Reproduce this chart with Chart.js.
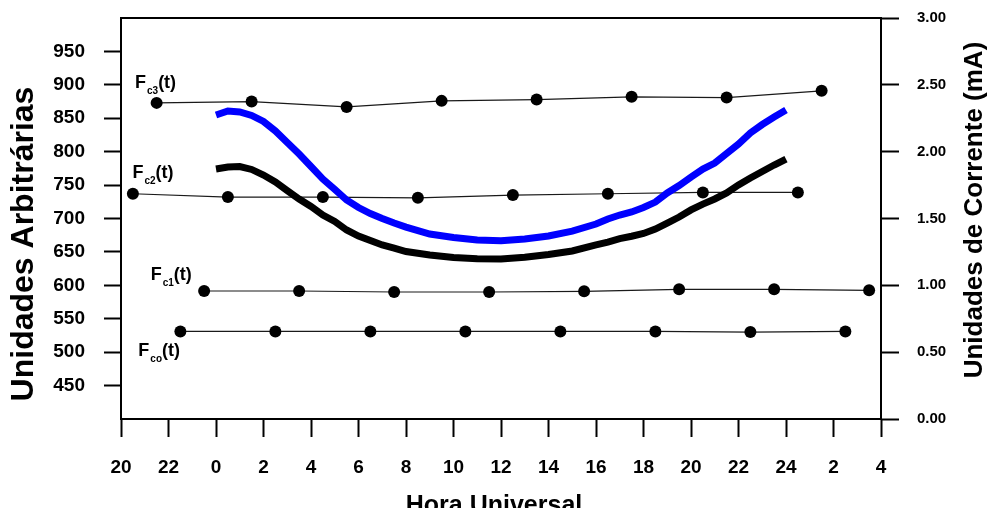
<!DOCTYPE html>
<html>
<head>
<meta charset="utf-8">
<title>Hora Universal</title>
<script src="https://cdn.jsdelivr.net/npm/chart.js@4.4.0/dist/chart.umd.min.js"></script>
<style>
  html, body { margin: 0; padding: 0; background: #fff; }
  #wrap { width: 989px; height: 508px; }
</style>
</head>
<body>
<div id="wrap"><canvas id="chart" width="989" height="508"></canvas></div>
<script>
const FONT = '"Liberation Sans", Arial, Helvetica, sans-serif';

// Calibration runs (left axis, arbitrary units), hour axis runs from 20h of the previous day
const fc3Hours = [-2.5, 1.5, 5.5, 9.5, 13.5, 17.5, 21.5, 25.5];
const fc3Values = [873, 875, 867, 876, 878, 882, 881, 891];

const fc2Hours = [-3.5, 0.5, 4.5, 8.5, 12.5, 16.5, 20.5, 24.5];
const fc2Values = [737, 732, 732, 731, 735, 737, 739, 739];

const fc1Hours = [-0.5, 3.5, 7.5, 11.5, 15.5, 19.5, 23.5, 27.5];
const fc1Values = [591.5, 591.5, 590, 590, 591, 594, 594, 592.5];

const fcoHours = [-1.5, 2.5, 6.5, 10.5, 14.5, 18.5, 22.5, 26.5];
const fcoValues = [531, 531, 531, 531, 531, 531, 530, 531];

// Current curves (right axis, mA)
const curveHours = [0, 0.5, 1, 1.5, 2, 2.5, 3, 3.5, 4, 4.5, 5, 5.5, 6, 6.5, 7, 7.5, 8,
  9, 10, 11, 12, 13, 14, 15, 16, 16.5, 17, 17.5, 18, 18.5, 19, 19.5, 20, 20.5,
  21, 21.5, 22, 22.5, 23, 23.5, 24];
const blueCurrent = [2.274, 2.304, 2.297, 2.271, 2.226, 2.155, 2.069, 1.982, 1.889, 1.795,
  1.717, 1.638, 1.582, 1.537, 1.500, 1.466, 1.436,
  1.384, 1.358, 1.339, 1.334, 1.347, 1.369, 1.406, 1.459,
  1.496, 1.526, 1.549, 1.582, 1.623, 1.691, 1.747, 1.810, 1.870, 1.915, 1.986,
  2.057, 2.140, 2.203, 2.259, 2.312];
const blackCurrent = [1.870, 1.885, 1.889, 1.867, 1.825, 1.773, 1.709, 1.646, 1.590, 1.526,
  1.478, 1.414, 1.369, 1.335, 1.302, 1.279, 1.253,
  1.227, 1.208, 1.198, 1.197, 1.210, 1.231, 1.257, 1.302,
  1.324, 1.349, 1.367, 1.388, 1.421, 1.466, 1.511, 1.564, 1.608, 1.646, 1.691,
  1.751, 1.803, 1.852, 1.900, 1.945];

// Series name labels: [subscript, hour, value] anchored at the left/baseline of the text
const seriesLabels = [
  ['c3', -3.41, 895.5],
  ['c2', -3.52, 761],
  ['c1', -2.75, 607.5],
  ['co', -3.27, 494]
];

function toPoints(xs, ys) {
  return xs.map((x, i) => ({ x: x, y: ys[i] }));
}

function calibSet(label, xs, ys) {
  return {
    label: label,
    data: toPoints(xs, ys),
    yAxisID: 'y',
    borderColor: '#1a1a1a',
    borderWidth: 1.2,
    pointRadius: 6,
    pointHoverRadius: 6,
    pointBackgroundColor: '#000',
    pointBorderColor: '#000',
    pointBorderWidth: 0,
    tension: 0
  };
}

function curveSet(label, ys, color) {
  return {
    label: label,
    data: toPoints(curveHours, ys),
    yAxisID: 'y1',
    borderColor: color,
    borderWidth: 7,
    pointRadius: 0,
    tension: 0
  };
}

// Draws "F" with a subscript followed by "(t)"
function drawFLabel(ctx, x, y, sub) {
  ctx.font = 'bold 18px ' + FONT;
  ctx.fillText('F', x, y);
  const fw = ctx.measureText('F').width;
  ctx.font = 'bold 10px ' + FONT;
  ctx.fillText(sub, x + fw + 1, y + 6);
  const sw = ctx.measureText(sub).width;
  ctx.font = 'bold 18px ' + FONT;
  ctx.fillText('(t)', x + fw + sw + 1, y);
}

const decorations = {
  id: 'decorations',
  afterDraw(chart) {
    const { ctx, chartArea, scales } = chart;
    ctx.save();

    // top edge of the frame
    ctx.strokeStyle = '#000';
    ctx.lineWidth = 2;
    ctx.beginPath();
    ctx.moveTo(chartArea.left - 1, chartArea.top);
    ctx.lineTo(chartArea.right + 1, chartArea.top);
    ctx.stroke();

    ctx.fillStyle = '#000';
    ctx.textAlign = 'left';
    ctx.textBaseline = 'alphabetic';
    seriesLabels.forEach(([sub, h, v]) => {
      drawFLabel(ctx, scales.x.getPixelForValue(h), scales.y.getPixelForValue(v), sub);
    });

    // axis titles
    ctx.textAlign = 'center';
    ctx.font = 'bold 25px ' + FONT;
    ctx.fillText('Hora Universal', 494, 513);

    ctx.save();
    ctx.translate(33, 244);
    ctx.rotate(-Math.PI / 2);
    ctx.font = 'bold 32px ' + FONT;
    ctx.fillText('Unidades Arbitrárias', 0, 0);
    ctx.restore();

    ctx.save();
    ctx.translate(982, 210);
    ctx.rotate(-Math.PI / 2);
    ctx.font = 'bold 26px ' + FONT;
    ctx.fillText('Unidades de Corrente (mA)', 0, 0);
    ctx.restore();

    ctx.restore();
  }
};

const axisGrid = (len) => ({
  drawOnChartArea: false,
  drawTicks: true,
  tickLength: len,
  tickWidth: 2,
  tickColor: '#000'
});
const axisBorder = { display: true, color: '#000', width: 2 };

// fixed box width for a vertical axis, without extra label padding at the ends
const fixWidth = w => s => {
  s.width = w;
  s.paddingTop = 0;
  s.paddingBottom = 0;
};

new Chart(document.getElementById('chart').getContext('2d'), {
  type: 'line',
  data: {
    datasets: [
      curveSet('Corrente 1', blueCurrent, '#0000ff'),
      curveSet('Corrente 2', blackCurrent, '#000000'),
      calibSet('Fc3(t)', fc3Hours, fc3Values),
      calibSet('Fc2(t)', fc2Hours, fc2Values),
      calibSet('Fc1(t)', fc1Hours, fc1Values),
      calibSet('Fco(t)', fcoHours, fcoValues)
    ]
  },
  options: {
    responsive: false,
    animation: false,
    events: [],
    layout: { padding: { top: 18, left: 0, right: 0, bottom: 0 } },
    plugins: {
      legend: { display: false },
      tooltip: { enabled: false }
    },
    scales: {
      x: {
        type: 'linear',
        position: 'bottom',
        min: -4,
        max: 28,
        grid: axisGrid(18),
        border: axisBorder,
        ticks: {
          stepSize: 2,
          padding: 19,
          color: '#000',
          font: { family: FONT, size: 19, weight: 'bold' },
          maxRotation: 0,
          autoSkip: false,
          callback: v => (v < 0 ? v + 24 : (v > 24 ? v - 24 : v))
        },
        afterFit: s => { s.height = 89; }
      },
      y: {
        type: 'linear',
        position: 'left',
        min: 400,
        max: 1000,
        grid: axisGrid(17),
        border: axisBorder,
        ticks: {
          stepSize: 50,
          padding: 19,
          color: '#000',
          font: { family: FONT, size: 19, weight: 'bold' }
        },
        afterBuildTicks: s => { s.ticks = s.ticks.filter(t => t.value > 400 && t.value < 1000); },
        afterFit: fixWidth(121)
      },
      y1: {
        type: 'linear',
        position: 'right',
        min: 0,
        max: 3,
        grid: axisGrid(18),
        border: axisBorder,
        ticks: {
          stepSize: 0.5,
          padding: 18,
          color: '#000',
          font: { family: FONT, size: 15, weight: 'bold' },
          callback: v => v.toFixed(2)
        },
        afterFit: fixWidth(108)
      }
    }
  },
  plugins: [decorations]
});
</script>
</body>
</html>
